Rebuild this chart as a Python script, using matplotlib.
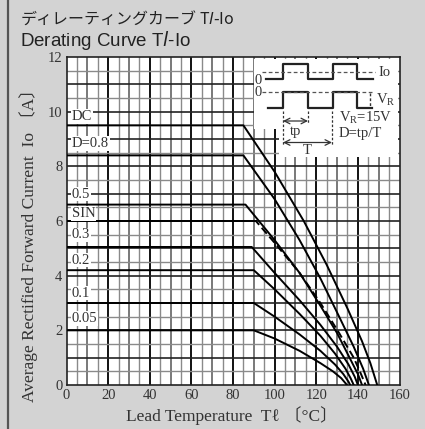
import matplotlib
matplotlib.use("Agg")
import matplotlib.pyplot as plt
from matplotlib.patches import Rectangle
import numpy as np

# derating curves: (temperature, current) points per duty
labels = ["DC", "D=0.8", "0.5", "SIN", "0.3", "0.2", "0.1", "0.05"]
dc_t = [0, 85, 100, 114, 125, 135, 142, 146, 149.3]
dc_i = [9.5, 9.5, 7.8, 6.0, 4.4, 2.8, 1.6, 0.8, 0]
d08_t = [0, 85, 100, 112, 122, 131, 138, 142.5, 145.3]
d08_i = [8.4, 8.4, 6.8, 5.3, 3.9, 2.5, 1.4, 0.6, 0]
d05_t = [0, 86, 100, 112, 122, 130, 136, 140, 142]
d05_i = [6.6, 6.6, 5.3, 4.1, 2.9, 1.9, 1.0, 0.4, 0]
sin_t = [0, 91, 100, 112, 122, 131, 138, 141.5, 143.7]
sin_i = [6.0, 6.0, 5.2, 4.1, 3.0, 1.9, 1.0, 0.4, 0]
d03_t = [0, 89, 100, 112, 122, 130, 135.5, 138.5, 140]
d03_i = [5.05, 5.05, 4.1, 3.1, 2.2, 1.4, 0.75, 0.3, 0]
d02_t = [0, 90, 100, 112, 122, 129, 134, 136.5, 138]
d02_i = [4.2, 4.2, 3.5, 2.6, 1.8, 1.15, 0.6, 0.25, 0]
d01_t = [0, 90, 100, 112, 122, 129, 133, 135.5, 136.3]
d01_i = [3.0, 3.0, 2.5, 1.85, 1.25, 0.75, 0.4, 0.12, 0]
d005_t = [0, 90, 100, 112, 122, 128, 132, 134, 134.7]
d005_i = [2.0, 2.0, 1.7, 1.25, 0.8, 0.5, 0.25, 0.07, 0]

curves_t = [dc_t, d08_t, d05_t, sin_t, d03_t, d02_t, d01_t, d005_t]
curves_i = [dc_i, d08_i, d05_i, sin_i, d03_i, d02_i, d01_i, d005_i]
label_y = [9.82, 8.84, 6.98, 6.28, 5.49, 4.57, 3.36, 2.44]

xticks = [0, 20, 40, 60, 80, 100, 120, 140, 160]
yticks = [0, 2, 4, 6, 8, 10, 12]

bg = "#d3d3d3"
ink = "#333333"
serif = ["Liberation Serif", "Noto Sans CJK JP", "DejaVu Sans"]

fig = plt.figure(figsize=(4.25, 4.29), dpi=100, facecolor=bg)
ax = fig.add_axes([66.5 / 425, 1 - 385 / 429, 333 / 425, 328 / 429])
ax.set_facecolor("white")
ax.set_xlim(0, 160)
ax.set_ylim(0, 12)

# graph paper grid
for t in np.arange(5, 160, 5):
    if t % 20 == 0:
        c, w = "#111111", 1.4
    elif t % 10 == 0:
        c, w = "#555555", 1.1
    else:
        c, w = "#8a8a8a", 1.0
    ax.axvline(t, color=c, lw=w, zorder=1)
for v in np.arange(0.5, 12, 0.5):
    if v % 1 == 0:
        c, w = "#222222", 1.2
    else:
        c, w = "#8a8a8a", 1.0
    ax.axhline(v, color=c, lw=w, zorder=1)

for name, t, i in zip(labels, curves_t, curves_i):
    ls = (0, (4, 2)) if name == "SIN" else "-"
    ax.plot(t, i, color="black", lw=1.4, ls=ls, zorder=3)
    if name == "SIN":
        # solid flat part under the dashes
        ax.plot(t[:2], i[:2], color="black", lw=1.4, zorder=3)

for name, y in zip(labels, label_y):
    ax.text(2.5, y, name, fontsize=10.5, family=serif, color=ink,
            va="center", ha="left", zorder=4,
            bbox=dict(facecolor="white", edgecolor="none", pad=0.5))

ax.set_xticks(xticks)
ax.set_yticks(yticks)
ax.tick_params(length=0, pad=3, labelsize=10.5, labelcolor=ink)
for lab in ax.get_xticklabels() + ax.get_yticklabels():
    lab.set_family(serif)
for s in ax.spines.values():
    s.set_color("#222222")
    s.set_linewidth(1.2)

# overlay in pixel units for titles, axis labels and the waveform inset
ov = fig.add_axes([0, 0, 1, 1], facecolor="none", zorder=5)
ov.set_xlim(0, 425)
ov.set_ylim(429, 0)
ov.axis("off")
ov.plot([8, 8], [0, 429], color="#555555", lw=1.6)

ov.text(232, 416, "Lead Temperature  Tℓ 〔°C〕", family=serif,
        fontsize=12.5, color=ink, ha="center", va="center")
ov.text(29, 241, "Average Rectified Forward Current  Io 〔A〕", family=serif,
        fontsize=12.5, color=ink, ha="center", va="center", rotation=90)

jp = ["Noto Sans CJK JP", "DejaVu Sans"]
ov.text(20, 18, "ディレーティングカーブ T$\\mathit{l}$-Io", family=jp,
        fontsize=11.5, color="#222222", va="center")
ov.text(20, 40, "Derating Curve T$\\mathit{l}$-Io", family=["Liberation Sans"],
        fontsize=13.5, color="#222222", va="center")

ov.add_patch(Rectangle((254, 59), 144, 70, facecolor="white", edgecolor="none"))
ov.add_patch(Rectangle((279, 128), 119, 29, facecolor="white", edgecolor="none"))

k = dict(color="#222222", lw=1.6)
# current waveform
ov.plot([266, 283, 283, 308, 308, 333, 333, 357, 357, 373],
        [79, 79, 64, 64, 79, 79, 64, 64, 79, 79], **k)
ov.plot([262, 375], [71.5, 71.5], color="#555555", lw=0.9, ls=(0, (3, 2)))
ov.text(258, 80, "0", family=serif, fontsize=10.5, color=ink, ha="center", va="center")
ov.text(378, 72, "Io", family=serif, fontsize=10.5, color=ink, va="center")
# voltage waveform
ov.plot([268, 283, 283, 308, 308, 333, 333, 357, 357, 372],
        [108, 108, 92, 92, 108, 108, 92, 92, 108, 108], **k)
ov.plot([262, 372], [92, 92], color="#555555", lw=0.9, ls=(0, (3, 2)))
ov.plot([370, 370], [93, 108], color=ink, lw=1.0, ls=(0, (2, 1.5)))
ov.text(258, 92, "0", family=serif, fontsize=10.5, color=ink, ha="center", va="center")
ov.text(376, 100, "V$_\\mathregular{R}$", family=serif, fontsize=10.5, color=ink, va="center")
ov.text(339, 118, "V$_\\mathregular{R}$=15V", family=serif, fontsize=10.5, color=ink, va="center")
ov.text(339, 133, "D=tp/T", family=serif, fontsize=10.5, color=ink, va="center")
# tp and T markers
d = dict(color=ink, lw=0.9, ls=(0, (2, 1.5)))
ov.plot([283, 283], [111, 145], **d)
ov.plot([308, 308], [111, 123], **d)
ov.plot([332, 332], [111, 145], **d)
ov.annotate("", xy=(283, 121), xytext=(308, 121),
            arrowprops=dict(arrowstyle="<->", lw=0.9, color=ink, shrinkA=0, shrinkB=0))
ov.annotate("", xy=(283, 142.5), xytext=(332, 142.5),
            arrowprops=dict(arrowstyle="<->", lw=0.9, color=ink, shrinkA=0, shrinkB=0))
ov.text(296, 131, "tp", family=serif, fontsize=10.5, color=ink, ha="center", va="center")
ov.text(307, 151, "T", family=serif, fontsize=10.5, color=ink, ha="center", va="center")

fig.savefig("out.png", dpi=100, facecolor=bg)
